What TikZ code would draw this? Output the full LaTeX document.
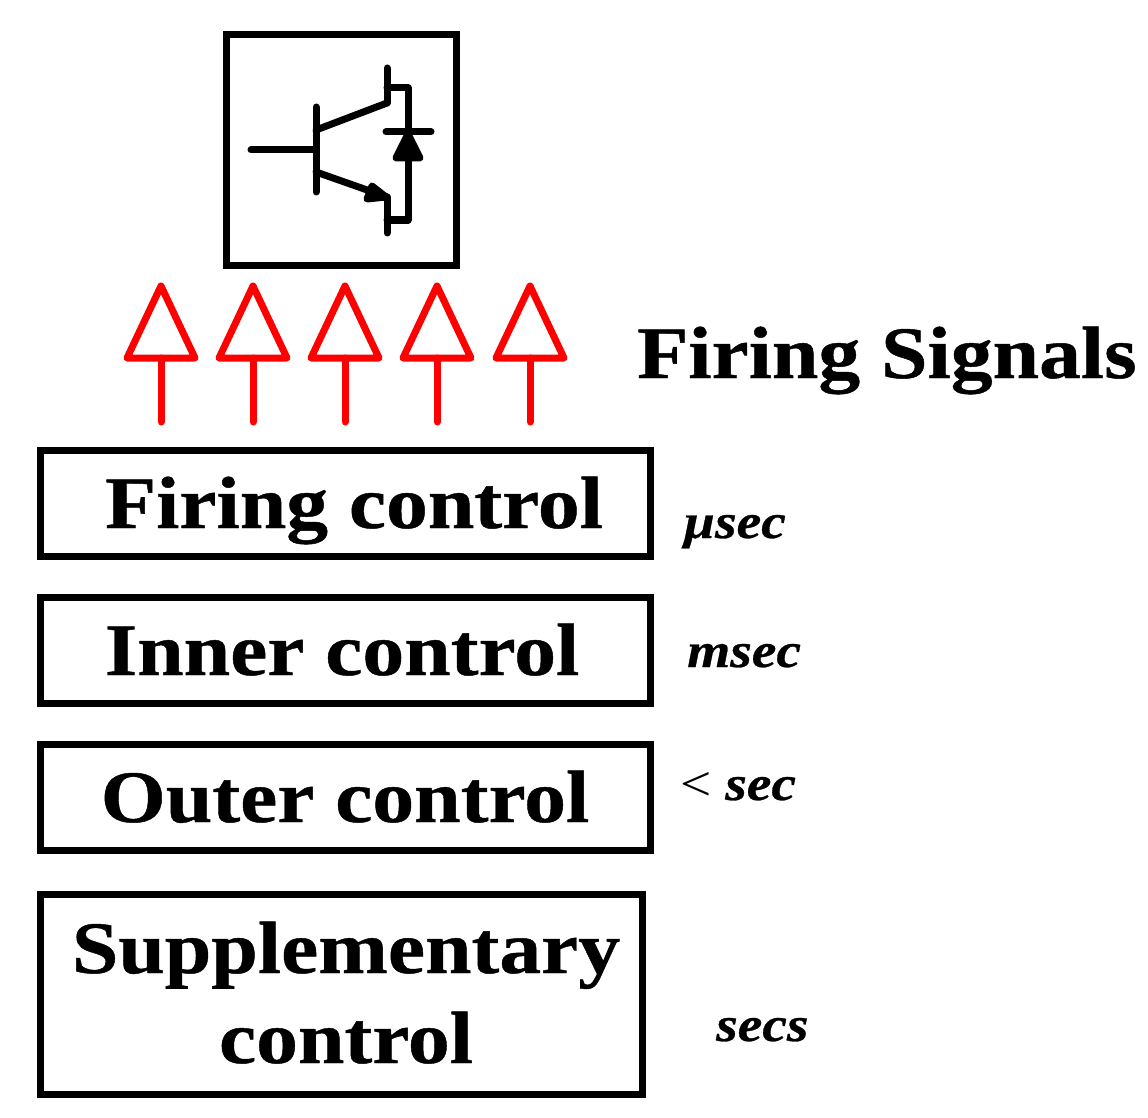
\documentclass[tikz,border=0pt]{standalone}
\usepackage{fontspec}
\setmainfont[FakeStretch=1.13,BoldFeatures={FakeBold=0.6},BoldItalicFeatures={FakeBold=0.6}]{Liberation Serif}
\tikzset{
  ctrlbox/.style={draw,line width=7pt,inner sep=0pt},
  ctrltext/.style={anchor=base,inner sep=0pt,font=\fontsize{74}{90}\selectfont\bfseries},
  timelabel/.style={anchor=base west,inner sep=0pt,font=\fontsize{49}{58}\selectfont\bfseries\itshape},
  igbt/.style={line width=7pt,line cap=round,line join=round},
  firingarrow/.style={red,line width=7pt,line join=round,line cap=round}
}
\begin{document}
\begin{tikzpicture}[x=1pt,y=-1pt]
\useasboundingbox (0,0) rectangle (1148,1118);
% switch
\node[draw,line width=7pt,minimum width=230pt,minimum height=230pt,inner sep=0pt] (switch) at (341,150) {};
\draw[igbt] (251,150) -- (316,150);
\draw[igbt] (316,107) -- (316,192);
\draw[igbt] (316,130) -- (387,103);
\draw[igbt] (387,68) -- (387,103);
\draw[igbt] (387,88) -- (408,88) -- (408,220) -- (387,220);
\draw[igbt] (316,172) -- (387,197);
\draw[igbt] (387,197) -- (387,233);
\draw[igbt] (386,132) -- (431,132);
\fill[igbt,draw] (408,134) -- (396,158) -- (420,158) -- cycle;
\fill[igbt,draw] (386,197) -- (372,186) -- (367,199) -- cycle;
% firing signals
\foreach \i/\x in {1/161,2/253,3/345,4/437,5/530} {
  \coordinate (tip\i) at (\x,286);
  \coordinate (base\i) at (\x,358);
  \coordinate (tail\i) at (\x,422);
  \draw[firingarrow] (tip\i) -- ++(34,72) -- ++(-68,0) -- cycle;
  \draw[firingarrow] (base\i) -- (tail\i);
}
\node[ctrltext,anchor=base west] (signals) at (637,378) {Firing Signals};
% control levels
\node[ctrlbox,minimum width=610pt,minimum height=106pt] (firing) at (345,503) {};
\node[ctrlbox,minimum width=610pt,minimum height=106pt] (inner) at (345,650) {};
\node[ctrlbox,minimum width=610pt,minimum height=106pt] (outer) at (345,797) {};
\node[ctrlbox,minimum width=602pt,minimum height=200pt] (supp) at (341,994) {};
\node[ctrltext] (firingtext) at (354,528) {Firing control};
\node[ctrltext] (innertext) at (342,675) {Inner control};
\node[ctrltext] (outertext) at (345,822) {Outer control};
\node[ctrltext] (supptext) at (346,973) {Supplementary};
\node[ctrltext] (supptext2) at (346,1063) {control};
% time scales
\node[timelabel] (tfiring) at (683,538) {µsec};
\node[timelabel] (tinner) at (687,667) {msec};
\node[timelabel] (touter) at (680,800) {{\fontseries{m}\fontshape{n}\selectfont <} sec};
\node[timelabel] (tsupp) at (716,1041) {secs};
\end{tikzpicture}
\end{document}
